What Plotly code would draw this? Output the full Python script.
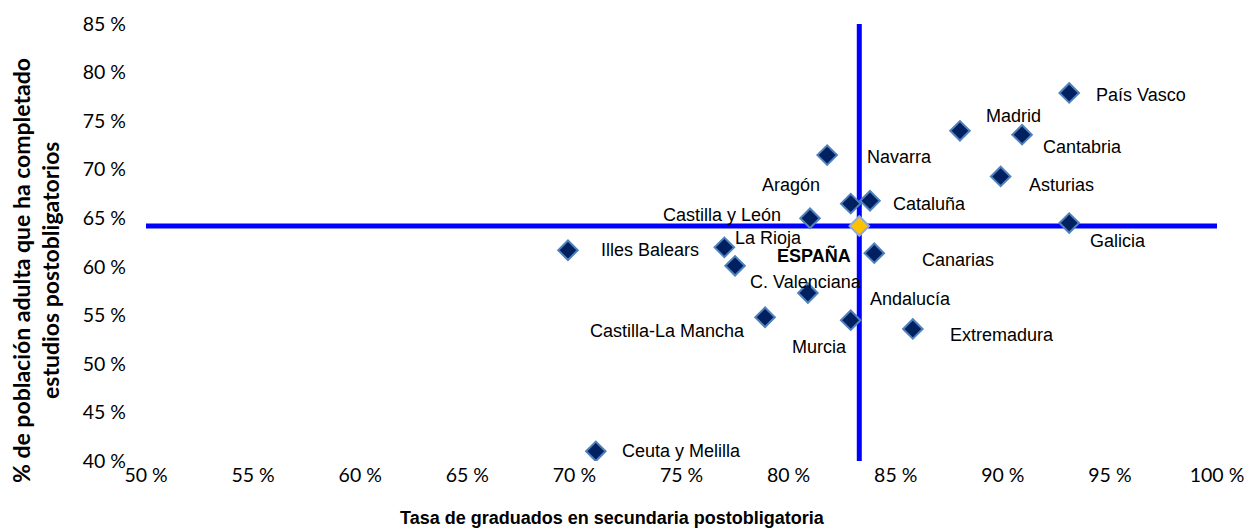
import plotly.graph_objects as go

# Comunidades autónomas
regions = [
    "País Vasco", "Madrid", "Cantabria", "Navarra", "Asturias", "Aragón",
    "Cataluña", "Castilla y León", "Galicia", "Illes Balears", "La Rioja",
    "Canarias", "C. Valenciana", "Andalucía", "Castilla-La Mancha", "Murcia",
    "Extremadura", "Ceuta y Melilla",
]
# Tasa de graduados en secundaria postobligatoria (%)
grad_rate = [93.1, 88.0, 90.9, 81.8, 89.9, 82.9, 83.8, 81.0, 93.1, 69.7, 77.0,
             84.0, 77.5, 80.9, 78.9, 82.9, 85.8, 71.0]
# % población adulta con estudios postobligatorios
adult_post = [77.9, 74.0, 73.6, 71.5, 69.3, 66.5, 66.8, 65.0, 64.5, 61.7, 62.0,
              61.4, 60.1, 57.3, 54.8, 54.5, 53.6, 41.0]

espana_label = "ESPAÑA"
espana_x = 83.3
espana_y = 64.2

x_ticks = [50, 55, 60, 65, 70, 75, 80, 85, 90, 95, 100]
y_ticks = [40, 45, 50, 55, 60, 65, 70, 75, 80, 85]

# label placement (pixel shift from the point)
label_shift = {
    "País Vasco": (72, -2), "Madrid": (54, 15), "Cantabria": (60, -12),
    "Navarra": (72, -2), "Asturias": (61, -9), "Aragón": (-60, 19),
    "Cataluña": (59, -3), "Castilla y León": (-88, 3), "Galicia": (49, -18),
    "Illes Balears": (82, 0), "La Rioja": (44, 9), "Canarias": (84, -7),
    "C. Valenciana": (71, -16), "Andalucía": (103, -6),
    "Castilla-La Mancha": (-98, -14), "Murcia": (-31, -27),
    "Extremadura": (89, -6), "Ceuta y Melilla": (86, 0),
}

LABEL_FONT = dict(family="Liberation Sans, Arial", size=18, color="#000000")
TICK_FONT = dict(family="Lato", size=19.5, color="#000000")

# the page body adds an 8px offset, so the figure is drawn 8px smaller
W, H = 1245, 523
L, R, T, B = 138, 36, 16, 70
pw, ph = W - L - R, H - T - B

fig = go.Figure()

# crosshair at the national value
fig.add_shape(type="line", x0=espana_x, x1=espana_x, y0=min(y_ticks), y1=max(y_ticks),
              xref="x", yref="y", line=dict(color="#0000FF", width=5), layer="below")
fig.add_shape(type="line", x0=min(x_ticks), x1=max(x_ticks), y0=espana_y, y1=espana_y,
              xref="x", yref="y", line=dict(color="#0000FF", width=5), layer="below")

fig.add_trace(go.Scatter(
    x=grad_rate, y=adult_post, mode="markers", text=regions,
    marker=dict(symbol="diamond", size=15, color="#002060",
                line=dict(color="#4F81BD", width=2)),
    hovertemplate="%{text}<br>%{x} %<br>%{y} %<extra></extra>",
))
fig.add_trace(go.Scatter(
    x=[espana_x], y=[espana_y], mode="markers", text=[espana_label],
    marker=dict(symbol="diamond", size=15, color="#FFC000",
                line=dict(color="#8EA9DB", width=2)),
    hovertemplate="%{text}<br>%{x} %<br>%{y} %<extra></extra>",
))

annotations = []
for name, gx, ay in zip(regions, grad_rate, adult_post):
    dx, dy = label_shift[name]
    annotations.append(dict(x=gx, y=ay, xref="x", yref="y", text=name, showarrow=False,
                            xshift=dx, yshift=dy, font=LABEL_FONT))
annotations.append(dict(x=espana_x, y=espana_y, xref="x", yref="y", text="<b>ESPAÑA</b>",
                        showarrow=False, xshift=-45, yshift=-30, font=LABEL_FONT))

# axis titles (screen pixel targets converted to paper coords)
annotations.append(dict(xref="paper", yref="paper", showarrow=False,
                        x=(612 - 146) / pw, y=-57 / ph, xanchor="center", yanchor="middle",
                        text="<b>Tasa de graduados en secundaria postobligatoria</b>",
                        font=dict(family="Liberation Sans, Arial", size=18, color="#000000")))
for text, sx in [("% de población adulta que ha completado", 21),
                 ("estudios postobligatorios", 50)]:
    annotations.append(dict(xref="paper", yref="paper", showarrow=False, textangle=-90,
                            x=(sx - 146) / pw, y=(461 - 271) / ph,
                            xanchor="center", yanchor="middle", text=f"<b>{text}</b>",
                            font=dict(family="Lato", size=23, color="#000000")))

fig.update_layout(
    width=W, height=H,
    margin=dict(l=L, r=R, t=T, b=B, autoexpand=False),
    paper_bgcolor="white", plot_bgcolor="white",
    showlegend=False,
    annotations=annotations,
    font=dict(family="Lato", size=18, color="#000000"),
)

fig.update_xaxes(range=[50, 100], tickvals=x_ticks, ticktext=[f"{v} %" for v in x_ticks],
                 showgrid=False, zeroline=False, showline=False, ticks="",
                 automargin=False, tickfont=TICK_FONT)
fig.update_yaxes(range=[40, 85], tickvals=y_ticks, ticktext=[f"{v} %" for v in y_ticks],
                 showgrid=False, zeroline=False, showline=False, ticks="",
                 automargin=False, ticklabelstandoff=19, tickfont=TICK_FONT)

fig.write_html("out.html")
